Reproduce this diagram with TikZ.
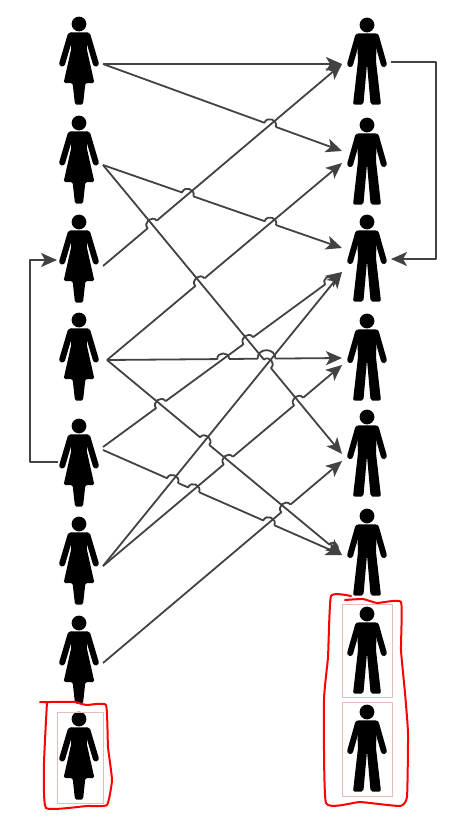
\documentclass[tikz,border=0pt]{standalone}
\usetikzlibrary{calc,arrows.meta}
\definecolor{conncol}{HTML}{424242}
\definecolor{framecol}{HTML}{E3BDBD}
\tikzset{
  figbox/.style={minimum width=48pt,minimum height=88pt,inner sep=0pt,outer sep=0pt},
  conn/.style={draw=conncol,line width=1.8pt,line join=round},
  tip/.style={conn,-{Stealth[length=16pt,width=14pt,inset=4pt]}},
  frame/.style={draw=framecol,line width=1pt},
  scrawl/.style={draw=red,line width=2pt,line join=round,line cap=round},
  woman/.pic={
    \begin{scope}[yshift=37pt]
    \fill (0,0) circle (7.4);
    \fill[rounded corners=1.6pt] (-10,8.4) -- (10,8.4) -- (7.6,24) -- (15.4,59) -- (6.4,59) -- (4,80.6) -- (-4,80.6) -- (-6.4,59) -- (-15.4,59) -- (-7.6,24) -- cycle;
    \draw[line width=6pt,line cap=round] (-8.5,11.5) -- (-16.8,39.5);
    \draw[line width=6pt,line cap=round] (8.5,11.5) -- (16.8,39.5);
    \end{scope}
  },
  man/.pic={
    \begin{scope}[yshift=37pt]
    \fill (0,0) circle (7.4);
    \fill[rounded corners=2pt] (-10,8.4) -- (10,8.4) -- (9,36) -- (14,79.6) -- (3.6,79.6) -- (0,39) -- (-3.6,79.6) -- (-14,79.6) -- (-9,36) -- cycle;
    \draw[line width=6pt,line cap=round] (-9,11.5) -- (-16.8,39);
    \draw[line width=6pt,line cap=round] (9,11.5) -- (16.8,39);
    \end{scope}
  }
}
% #1 start, #2 end, #3 list of lineA/lineB/radius crossings, in order along the line
\newcommand\hopline[3]{%
  \coordinate (cur) at (#1);
  \foreach \pa/\pb/\hr in {#3} {
    \coordinate (xx) at (intersection of #1--#2 and \pa--\pb);
    \coordinate (hp) at ($(xx)!\hr pt!(#1)$);
    \coordinate (hq) at ($(xx)!\hr pt!(#2)$);
    \coordinate (hpc) at ($(hp)!\hr*1.25pt!90:(hq)$);
    \coordinate (hqc) at ($(hq)!\hr*1.25pt!-90:(hp)$);
    \draw[conn] (cur) -- (hp) .. controls (hpc) and (hqc) .. (hq);
    \coordinate (cur) at (hq);
  }
  \draw[tip] (cur) -- (#2);
}
\begin{document}
\begin{tikzpicture}[x=1pt,y=-1pt]
\useasboundingbox (0,0) rectangle (453,825);
% figures
\foreach \n/\y in {1/61,2/160,3/259,4/357,5/463,6/561,7/660,8/756} {
  \node[figbox] (w\n) at (79,\y) {};
  \pic at (w\n) {woman};
}
\foreach \n/\y in {1/62,2/162,3/259,4/358,5/454,6/553,7/651,8/749} {
  \node[figbox] (m\n) at (367,\y) {};
  \pic at (m\n) {man};
}
% frames
\draw[frame] (57,712) rectangle (103,803);
\draw[frame] (342,604) rectangle (392,697);
\draw[frame] (342,702) rectangle (392,796);
% connector ends
\coordinate (w1o) at ($(w1.east)+(0,3)$);
\coordinate (w2o) at ($(w2.east)+(0,5)$);
\coordinate (w3o) at ($(w3.east)+(0,7)$);
\coordinate (w4o) at ($(w4.east)+(4,3)$);
\coordinate (w5a) at ($(w5.east)+(0,-16)$);
\coordinate (w5b) at ($(w5.east)+(0,-13)$);
\coordinate (w6o) at ($(w6.east)+(0,5)$);
\coordinate (w7o) at ($(w7.east)+(0,3)$);
\coordinate (m1i) at ($(m1.west)+(-1,2)$);
\coordinate (m2a) at ($(m2.west)+(-1,-11)$);
\coordinate (m2b) at ($(m2.west)+(-1,1)$);
\coordinate (m3a) at ($(m3.west)+(-1,-11)$);
\coordinate (m3b) at ($(m3.west)+(-1,13)$);
\coordinate (m4a) at ($(m4.west)+(-1,0)$);
\coordinate (m4b) at ($(m4.west)+(-1,7)$);
\coordinate (m5a) at ($(m5.west)+(-1,0)$);
\coordinate (m5b) at ($(m5.west)+(-1,7)$);
\coordinate (m6i) at ($(m6.west)+(-1,2)$);
% helper verticals for merged hops
\coordinate (v1a) at (266.5,300); \coordinate (v1b) at (266.5,400);
\coordinate (v2a) at (329,200);   \coordinate (v2b) at (329,400);
\coordinate (v3a) at (333,500);   \coordinate (v3b) at (333,600);
% straight and hopping connectors
\hopline{w1o}{m1i}{}
\hopline{w1o}{m2a}{w3o/m1i/6}
\hopline{w2o}{m3a}{w3o/m1i/6,w4o/m2b/6}
\hopline{w3o}{m1i}{w2o/m5a/6}
\hopline{w4o}{m2b}{w2o/m5a/6}
\hopline{w4o}{m4a}{w5a/m3b/6,v1a/v1b/9}
\hopline{w5a}{m3b}{w4o/m6i/6,w2o/m5a/6,v2a/v2b/5}
\hopline{w2o}{m5a}{w6o/m3b/5.5}
\hopline{w4o}{m6i}{w6o/m3b/6,v3a/v3b/5}
\hopline{w5b}{m6i}{w6o/m3b/6,w6o/m4b/6,w7o/m5b/6}
\hopline{w6o}{m3b}{}
\hopline{w6o}{m4b}{w4o/m6i/6,w2o/m5a/6}
\hopline{w7o}{m5b}{w4o/m6i/6}
% side loops
\coordinate (lp1) at ($(m1.east)+(45,0)$);
\coordinate (lp2) at ($(m3.east)+(45,0)$);
\draw[tip] (m1.east) -- (lp1) -- (lp2) -- (m3.east);
\coordinate (lp3) at ($(w5.west)+(-25,-1)$);
\coordinate (lp4) at ($(w3.west)+(-25,1)$);
\coordinate (w5l) at ($(w5.west)+(3,-1)$);
\coordinate (w3l) at ($(w3.west)+(2,1)$);
\draw[tip] (w5l) -- (lp3) -- (lp4) -- (w3l);
% red scribbles
\draw[scrawl] plot[smooth,tension=0.25] coordinates {(40,702) (47,702) (75,702) (80,703.5) (87,705) (106,705) (108,747) (112,780) (107,805) (87,806) (46,808) (44,763) (47,702)};
\draw[scrawl] plot[smooth,tension=0.25] coordinates {(351,596) (331,596) (328,657) (324,700) (326,803) (360,802) (400,806) (407,797) (408,733) (405,693) (401,650) (401,602) (377,603) (363,599) (345,600)};
\end{tikzpicture}
\end{document}
